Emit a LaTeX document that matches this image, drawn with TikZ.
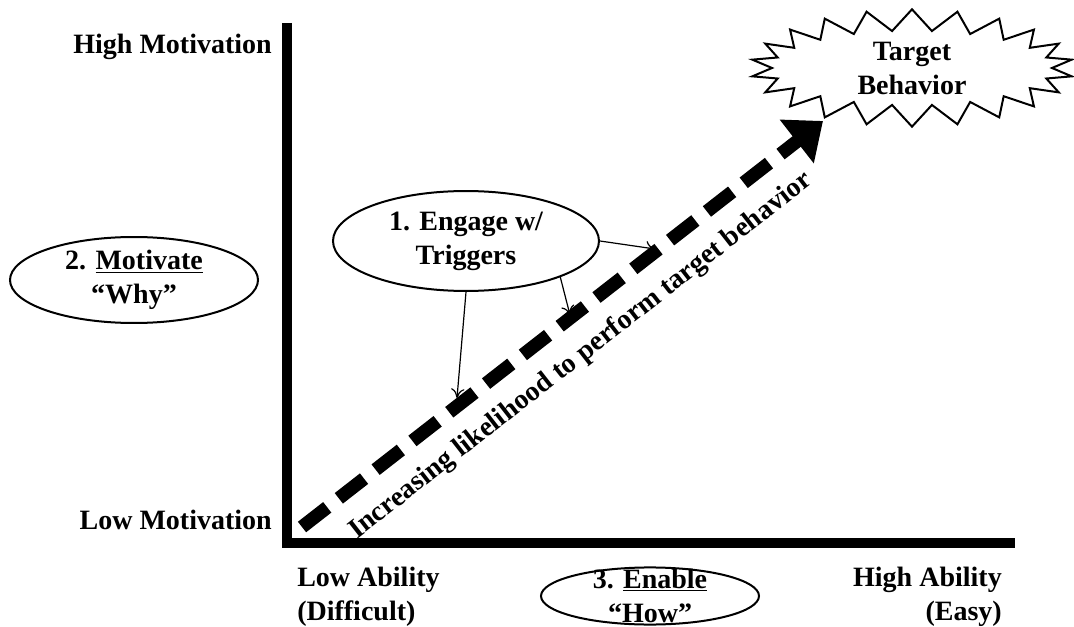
\documentclass[tikz,border=0pt]{standalone}
\usepackage{fontspec}
\setmainfont{Liberation Serif}
\usetikzlibrary{shapes.geometric,shapes.symbols,arrows.meta,positioning}

\tikzset{
    lbl/.style={font=\bfseries\fontsize{21}{25.5}\selectfont, inner sep=0pt},
    oval/.style={lbl, ellipse, draw, line width=1.5pt, align=center, inner xsep=0pt},
    trig/.style={-{To[length=7pt,width=10pt]}, line width=0.9pt},
}

\begin{document}
\begin{tikzpicture}[x=0.75pt,y=-0.75pt]
    \useasboundingbox (0,0) rectangle (1074,627);

    % Origin of the two axes
    \def\ox{287}
    \def\oy{543}
    \draw[line width=7.5pt] (\ox,23) -- (\ox,\oy) -- (1015,\oy);

    % Axis labels
    \node[lbl, anchor=east] (himot) at (272,47) {High Motivation};
    \node[lbl, anchor=east] (lomot) at (272,520) {Low Motivation};
    \node[lbl, anchor=west, align=left] (loab) at (297,597) {Low Ability\\(Difficult)};
    \node[lbl, anchor=east, align=right] (hiab) at (1002,597) {High Ability\\(Easy)};

    % The three steps
    \node[oval, minimum width=186pt, inner ysep=0.5pt] (motiv) at (134,280) {2. \underline{Motivate}\\``Why''};
    \node[oval, minimum width=163.5pt, inner ysep=-5pt] (enab) at (650,596) {3. \underline{Enable}\\``How''};
    \node[oval, minimum width=199.5pt, inner ysep=4.5pt] (eng) at (466,241) {1. Engage w/\\Triggers};

    % Goal
    \node[lbl, starburst, draw, line width=1.5pt, align=center, starburst points=22,
          starburst point height=16pt, random starburst=0, inner ysep=0pt,
          minimum width=242pt, minimum height=88pt] (target) at (912,68) {Target\\Behavior};

    % Dashed arrow and its label
    \coordinate (lo) at (302,527);
    \coordinate (hi) at (823,121);
    \draw[line width=10pt, dash pattern=on 24pt off 11pt,
          -{Triangle[width=40pt,length=25pt]}] (lo) -- (hi);
    \node[lbl, rotate=38] (likely) at (581,356) {Increasing likelihood to perform target behavior};

    % Triggers point at the arrow
    \coordinate (t1) at (655,249);
    \coordinate (t2) at (570,315);
    \coordinate (t3) at (457,398);
    \draw[trig] (eng.east) -- (t1);
    \draw[trig] (eng.-21) -- (t2);
    \draw[trig] (eng.south) -- (t3);

\end{tikzpicture}
\end{document}
